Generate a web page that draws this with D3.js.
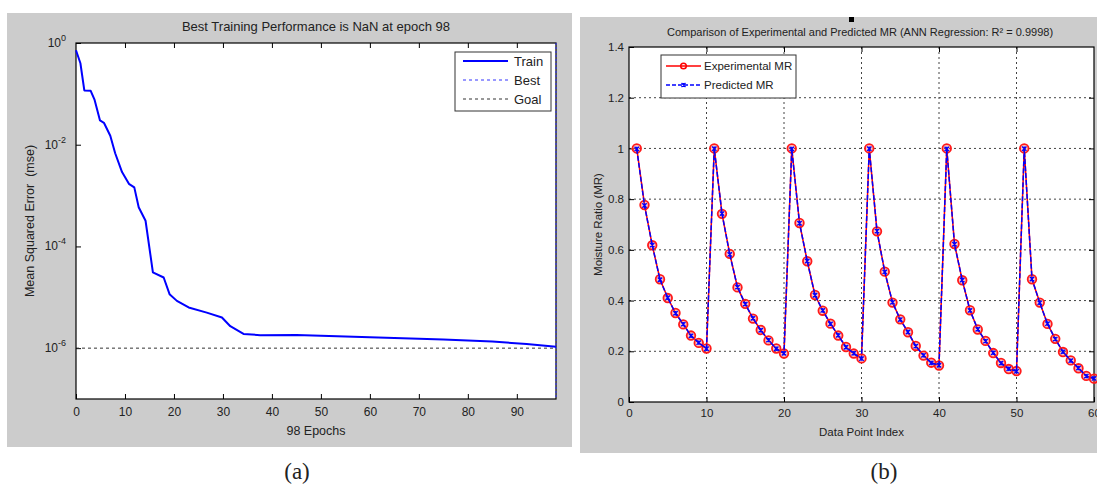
<!DOCTYPE html>
<html><head><meta charset="utf-8">
<script src="https://cdn.jsdelivr.net/npm/d3@7"></script>
<style>
body{margin:0;background:#fff}
svg{display:block}
text{font-family:"Liberation Sans",Arial,sans-serif;fill:#222}
</style>
</head><body>
<svg id="c" width="1097" height="496"></svg>
<script>
// ---------- Data: panel (a) ----------
const epochs   = [0, 0.9, 1.7, 3, 3.8, 4.9, 5.7, 7, 8, 9.4, 10.8, 11.9, 12.8, 14.2, 15.7, 17.9, 19.1, 20.6, 23, 26.7, 29.8, 31.5, 34.2, 37.6, 45, 55, 65, 75, 85, 92, 98];
const trainMSE = [0.72, 0.40, 0.117, 0.115, 0.076, 0.030, 0.027, 0.015, 0.0068, 0.0029, 0.0017, 0.00145, 0.00059, 0.00032, 3.1e-5, 2.45e-5, 1.15e-5, 8.5e-6, 6.3e-6, 5.0e-6, 4.0e-6, 2.7e-6, 1.9e-6, 1.8e-6, 1.82e-6, 1.7e-6, 1.58e-6, 1.48e-6, 1.35e-6, 1.2e-6, 1.07e-6];
const goalMSE = 1e-6;
const bestEpoch = 98;
const mseTickExps = [0, -2, -4, -6];
const epochTicks = [0, 10, 20, 30, 40, 50, 60, 70, 80, 90];
const legendA = ["Train", "Best", "Goal"];

// ---------- Data: panel (b) ----------
const pointIndex = [1,2,3,4,5,6,7,8,9,10,11,12,13,14,15,16,17,18,19,20,21,22,23,24,25,26,27,28,29,30,31,32,33,34,35,36,37,38,39,40,41,42,43,44,45,46,47,48,49,50,51,52,53,54,55,56,57,58,59,60];
const experimentalMR = [1.0,0.777,0.618,0.484,0.41,0.351,0.306,0.262,0.233,0.211,
                        1.0,0.742,0.584,0.452,0.387,0.329,0.284,0.243,0.211,0.191,
                        1.0,0.706,0.555,0.422,0.36,0.309,0.262,0.217,0.191,0.172,
                        1.0,0.673,0.514,0.392,0.326,0.275,0.221,0.183,0.155,0.144,
                        1.0,0.623,0.48,0.362,0.286,0.241,0.193,0.154,0.13,0.122,
                        1.0,0.484,0.392,0.308,0.249,0.197,0.164,0.133,0.103,0.092];
const predictedMR    = [0.998,0.775,0.619,0.482,0.411,0.350,0.307,0.261,0.234,0.210,
                        0.999,0.743,0.582,0.453,0.386,0.330,0.283,0.244,0.210,0.192,
                        0.998,0.705,0.556,0.421,0.361,0.308,0.263,0.216,0.192,0.171,
                        0.999,0.674,0.513,0.393,0.325,0.276,0.220,0.184,0.154,0.145,
                        0.998,0.622,0.481,0.361,0.287,0.240,0.194,0.153,0.131,0.121,
                        0.999,0.485,0.391,0.309,0.248,0.198,0.163,0.134,0.102,0.093];
const mrTicks = [0, 0.2, 0.4, 0.6, 0.8, 1, 1.2, 1.4];
const indexTicks = [0, 10, 20, 30, 40, 50, 60];
const legendB = ["Experimental MR", "Predicted MR"];

const svg = d3.select("#c");
const GRAY = "#cccccc";

// ================= Panel (a) =================
svg.append("rect").attr("x",7).attr("y",13).attr("width",565).attr("height",434).attr("fill",GRAY);
const A = {l:76, r:556, t:43, b:399};
const xA = d3.scaleLinear().domain([0,98]).range([A.l,A.r]);
const yA = d3.scaleLog().domain([1e-7,1]).range([A.b,A.t]);
const gA = svg.append("g");
gA.append("rect").attr("x",A.l).attr("y",A.t).attr("width",A.r-A.l).attr("height",A.b-A.t).attr("fill","#fff");

const axB = gA.append("g").attr("transform",`translate(0,${A.b})`)
  .call(d3.axisBottom(xA).tickValues(epochTicks).tickSizeInner(-5).tickSizeOuter(0).tickPadding(8).tickFormat(d3.format("d")));
const axT = gA.append("g").attr("transform",`translate(0,${A.t})`)
  .call(d3.axisTop(xA).tickValues(epochTicks.slice(1)).tickSizeInner(-5).tickSizeOuter(0).tickFormat(""));
const logTickVals = mseTickExps.map(e=>Math.pow(10,e));
const axL = gA.append("g").attr("transform",`translate(${A.l},0)`)
  .call(d3.axisLeft(yA).tickValues(logTickVals).tickSizeInner(-5).tickSizeOuter(0).tickFormat(""));
[axB,axT,axL].forEach(g=>{g.select(".domain").remove(); g.selectAll("line").attr("stroke","#000");
  g.selectAll("text").style("font-family",'"Liberation Sans",Arial,sans-serif').style("font-size","12px").attr("fill","#222");});
mseTickExps.forEach(e=>{
  const t = gA.append("text").attr("x",A.l-10).attr("y",yA(Math.pow(10,e))+4).attr("text-anchor","end").style("font-size","12px");
  t.append("tspan").text("10");
  t.append("tspan").attr("dy",-6).style("font-size","9px").text(String(e));
});
gA.append("line").attr("x1",A.l).attr("x2",A.r).attr("y1",yA(goalMSE)).attr("y2",yA(goalMSE))
  .attr("stroke","#333").attr("stroke-width",1).attr("stroke-dasharray","3,3");
gA.append("rect").attr("x",A.l).attr("y",A.t).attr("width",A.r-A.l).attr("height",A.b-A.t).attr("fill","none").attr("stroke","#000").attr("stroke-width",1.2);
gA.append("line").attr("x1",xA(bestEpoch)).attr("x2",xA(bestEpoch)).attr("y1",A.t).attr("y2",A.b)
  .attr("stroke","#3333ff").attr("stroke-width",1).attr("stroke-dasharray","2,2");
gA.append("path").datum(epochs.map((e,i)=>[e,trainMSE[i]]))
  .attr("d",d3.line().x(d=>xA(d[0])).y(d=>yA(d[1])))
  .attr("fill","none").attr("stroke","#0000ff").attr("stroke-width",2).attr("stroke-linejoin","round");
gA.append("text").attr("x",(A.l+A.r)/2).attr("y",31).attr("text-anchor","middle").style("font-size","13px")
  .text("Best Training Performance is NaN at epoch 98");
gA.append("text").attr("x",(A.l+A.r)/2).attr("y",435).attr("text-anchor","middle").style("font-size","12.5px").text("98 Epochs");
gA.append("text").attr("transform",`translate(34,${(A.t+A.b)/2}) rotate(-90)`).attr("text-anchor","middle").style("font-size","12.5px")
  .text("Mean Squared Error\u00a0 (mse)");
const LA = gA.append("g");
LA.append("rect").attr("x",455).attr("y",52).attr("width",96).attr("height",59).attr("fill","#fff").attr("stroke","#333").attr("stroke-width",1);
const legAStyles = [{c:"#0000ff",w:2,d:null},{c:"#3333ff",w:1,d:"3,3"},{c:"#333",w:1,d:"3,3"}];
legendA.forEach((name,i)=>{
  const y = 61 + i*19;
  LA.append("line").attr("x1",463).attr("x2",508).attr("y1",y).attr("y2",y)
    .attr("stroke",legAStyles[i].c).attr("stroke-width",legAStyles[i].w).attr("stroke-dasharray",legAStyles[i].d);
  LA.append("text").attr("x",514).attr("y",y+4.5).style("font-size","13px").text(name);
});

// ================= Panel (b) =================
svg.append("rect").attr("x",580).attr("y",17).attr("width",517).attr("height",436).attr("fill",GRAY);
const B = {l:629, r:1094, t:47, b:402};
const xB = d3.scaleLinear().domain([0,60]).range([B.l,B.r]);
const yB = d3.scaleLinear().domain([0,1.4]).range([B.b,B.t]);
const gB = svg.append("g");
gB.append("rect").attr("x",B.l).attr("y",B.t).attr("width",B.r-B.l).attr("height",B.b-B.t).attr("fill","#fff");
const gridX = indexTicks.filter(d=>d>0 && d<60), gridY = mrTicks.filter(d=>d>0 && d<1.4);
gB.selectAll(".gx").data(gridX).join("line").attr("x1",d=>xB(d)).attr("x2",d=>xB(d)).attr("y1",B.t).attr("y2",B.b)
  .attr("stroke","#444").attr("stroke-width",1).attr("stroke-dasharray","2,3");
gB.selectAll(".gy").data(gridY).join("line").attr("x1",B.l).attr("x2",B.r).attr("y1",d=>yB(d)).attr("y2",d=>yB(d))
  .attr("stroke","#444").attr("stroke-width",1).attr("stroke-dasharray","2,3");
const bB = gB.append("g").attr("transform",`translate(0,${B.b})`)
  .call(d3.axisBottom(xB).tickValues(indexTicks).tickSizeInner(-5).tickSizeOuter(0).tickPadding(7).tickFormat(d3.format("d")));
const bT = gB.append("g").attr("transform",`translate(0,${B.t})`)
  .call(d3.axisTop(xB).tickValues(gridX).tickSizeInner(-5).tickSizeOuter(0).tickFormat(""));
const bL = gB.append("g").attr("transform",`translate(${B.l},0)`)
  .call(d3.axisLeft(yB).tickValues(mrTicks).tickSizeInner(-5).tickSizeOuter(0).tickPadding(5).tickFormat(d=>d3.format("")(d)));
const bR = gB.append("g").attr("transform",`translate(${B.r},0)`)
  .call(d3.axisRight(yB).tickValues(gridY).tickSizeInner(-5).tickSizeOuter(0).tickFormat(""));
[bB,bT,bL,bR].forEach(g=>{g.select(".domain").remove(); g.selectAll("line").attr("stroke","#000");
  g.selectAll("text").style("font-family",'"Liberation Sans",Arial,sans-serif').style("font-size","11.5px").attr("fill","#222");});
gB.append("rect").attr("x",B.l).attr("y",B.t).attr("width",B.r-B.l).attr("height",B.b-B.t).attr("fill","none").attr("stroke","#000").attr("stroke-width",1.2);

const line = d3.line().x(d=>xB(d[0])).y(d=>yB(d[1]));
const expPts = pointIndex.map((x,i)=>[x,experimentalMR[i]]);
const prePts = pointIndex.map((x,i)=>[x,predictedMR[i]]);
gB.append("path").datum(expPts).attr("d",line).attr("fill","none").attr("stroke","#ff0000").attr("stroke-width",1.5);
gB.selectAll(".ec").data(expPts).join("circle").attr("cx",d=>xB(d[0])).attr("cy",d=>yB(d[1])).attr("r",4.3)
  .attr("fill","rgba(255,80,80,0.35)").attr("stroke","#ff1a1a").attr("stroke-width",1.8);
gB.append("path").datum(prePts).attr("d",line).attr("fill","none").attr("stroke","#0000ff").attr("stroke-width",1.5).attr("stroke-dasharray","5,2");
const xMark = (cx,cy,s)=>`M${cx-s},${cy-s}L${cx+s},${cy+s}M${cx-s},${cy+s}L${cx+s},${cy-s}M${cx},${cy-s}L${cx},${cy+s}`;
gB.selectAll(".pm").data(prePts).join("path").attr("d",d=>xMark(xB(d[0]),yB(d[1]),2.2))
  .attr("stroke","#0000ff").attr("stroke-width",1.3).attr("fill","none");

// title (single text, R² via unicode superscript)
gB.append("text").attr("x",860).attr("y",36).attr("text-anchor","middle").style("font-size","11px")
  .text("Comparison of Experimental and Predicted MR (ANN Regression: R\u00b2 = 0.9998)");
gB.append("rect").attr("x",849).attr("y",17).attr("width",5).attr("height",5).attr("fill","#000");
gB.append("text").attr("x",(B.l+B.r)/2).attr("y",436).attr("text-anchor","middle").style("font-size","11.5px").text("Data Point Index");
gB.append("text").attr("transform",`translate(602,${(B.t+B.b)/2}) rotate(-90)`).attr("text-anchor","middle").style("font-size","11.5px")
  .text("Moisture Ratio (MR)");
const LB = gB.append("g");
LB.append("rect").attr("x",661).attr("y",55).attr("width",135).attr("height",43).attr("fill","#fff").attr("stroke","#333").attr("stroke-width",1);
LB.append("line").attr("x1",666).attr("x2",701).attr("y1",66).attr("y2",66).attr("stroke","#ff0000").attr("stroke-width",1.5);
LB.append("circle").attr("cx",683.5).attr("cy",66).attr("r",2.8).attr("fill","none").attr("stroke","#ff0000").attr("stroke-width",1.5);
LB.append("line").attr("x1",666).attr("x2",701).attr("y1",85).attr("y2",85).attr("stroke","#0000ff").attr("stroke-width",1.5).attr("stroke-dasharray","4,2");
LB.append("path").attr("d",xMark(683.5,85,2)).attr("stroke","#0000ff").attr("stroke-width",1.3);
legendB.forEach((name,i)=>{
  LB.append("text").attr("x",704).attr("y",[66,85][i]+4).style("font-size","11.5px").text(name);
});

svg.append("text").attr("x",297).attr("y",479).attr("text-anchor","middle")
  .style("font-family",'"Liberation Serif","Times New Roman",serif').style("font-size","23px").attr("fill","#000").text("(a)");
svg.append("text").attr("x",884).attr("y",479).attr("text-anchor","middle")
  .style("font-family",'"Liberation Serif","Times New Roman",serif').style("font-size","23px").attr("fill","#000").text("(b)");
</script>
</body></html>
